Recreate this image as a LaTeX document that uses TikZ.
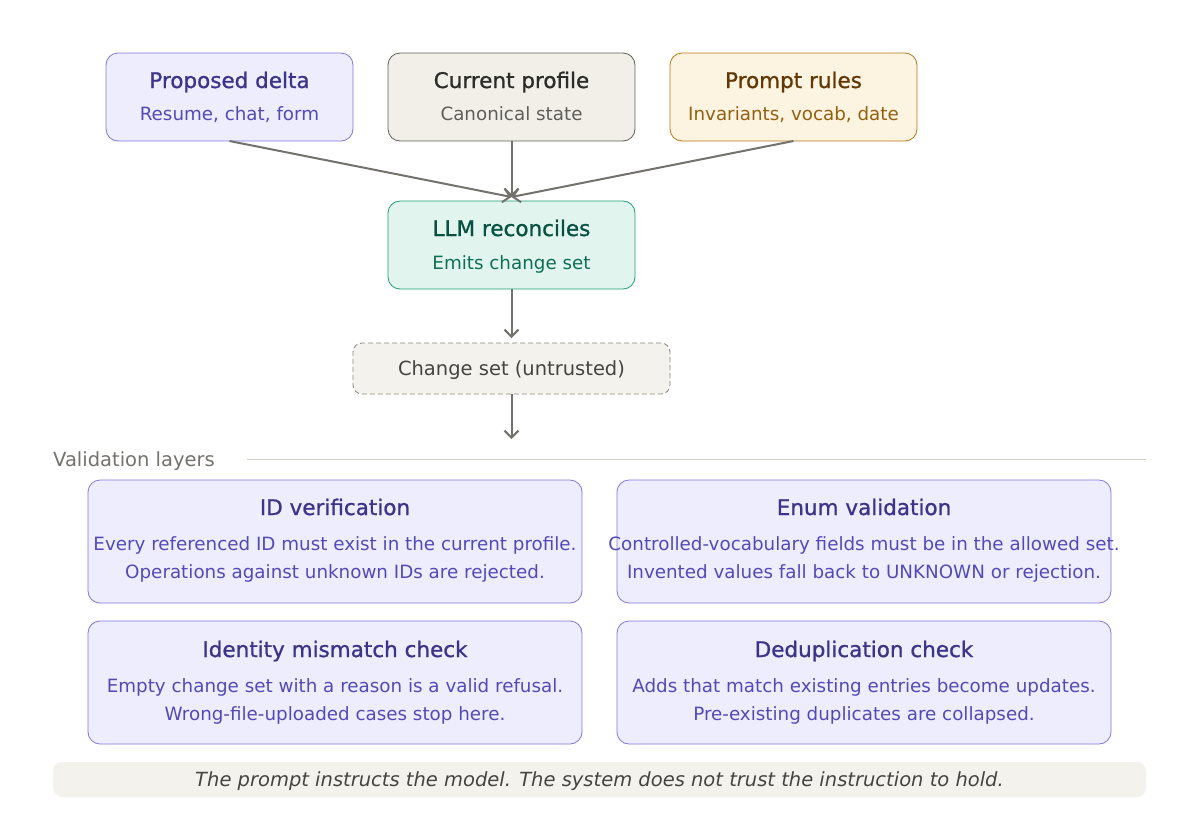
\documentclass[tikz,border=0pt]{standalone}
\usepackage{fontspec}
\setmainfont{DejaVu Sans}
\newfontfamily\medfont{DejaVu Sans}[FakeBold=1.0]
\usetikzlibrary{arrows.meta}
\definecolor{pFill}{HTML}{EEEDFE}
\definecolor{pDraw}{HTML}{7F77DD}
\definecolor{pTitle}{HTML}{3C3489}
\definecolor{pSub}{HTML}{534AB7}
\definecolor{gFill}{HTML}{F1EFE8}
\definecolor{gDraw}{HTML}{5F5E5A}
\definecolor{gTitle}{HTML}{2C2C2A}
\definecolor{gSub}{HTML}{5F5E5A}
\definecolor{yFill}{HTML}{FCF3E0}
\definecolor{yDraw}{HTML}{BA7517}
\definecolor{yTitle}{HTML}{633806}
\definecolor{ySub}{HTML}{936012}
\definecolor{tFill}{HTML}{E1F5EE}
\definecolor{tDraw}{HTML}{1D9E75}
\definecolor{tTitle}{HTML}{085041}
\definecolor{tSub}{HTML}{0F6E56}
\definecolor{cFill}{HTML}{F3F2EC}
\definecolor{cDraw}{HTML}{888780}
\definecolor{cText}{HTML}{444441}
\definecolor{arrowC}{HTML}{73726C}
\definecolor{ruleC}{HTML}{D3D1C7}
\definecolor{labelC}{HTML}{73726C}
\definecolor{footFill}{HTML}{F3F2EC}
\tikzset{
  box/.style={rounded corners=12pt, line width=0.8pt, inner sep=0pt},
  ttl/.style={anchor=base, inner sep=0pt, font=\medfont\fontsize{21.5}{24}\selectfont},
  sub/.style={anchor=base, inner sep=0pt, font=\fontsize{18.3}{20}\selectfont},
  arr/.style={draw=arrowC, line width=2pt, -{Straight Barb[length=7pt,width=14pt,line width=2pt]}},
}
\begin{document}
\begin{tikzpicture}[x=1pt,y=-1pt]
\useasboundingbox (0,0) rectangle (1200,812);
% top boxes
\node[box, draw=pDraw, fill=pFill, minimum width=247pt, minimum height=88pt] (pd) at (229.5,97) {};
\node[ttl, text=pTitle] (pdt) at (229.5,88) {Proposed delta};
\node[sub, text=pSub] (pds) at (229.5,120) {Resume, chat, form};
\node[box, draw=gDraw, fill=gFill, minimum width=247pt, minimum height=88pt] (cp) at (511.5,97) {};
\node[ttl, text=gTitle] (cpt) at (511.5,88) {Current profile};
\node[sub, text=gSub] (cps) at (511.5,120) {Canonical state};
\node[box, draw=yDraw, fill=yFill, minimum width=247pt, minimum height=88pt] (pr) at (793.5,97) {};
\node[ttl, text=yTitle] (prt) at (793.5,88) {Prompt rules};
\node[sub, text=ySub] (prs) at (793.5,120) {Invariants, vocab, date};
% LLM
\node[box, draw=tDraw, fill=tFill, minimum width=247pt, minimum height=88pt] (llm) at (511.5,245) {};
\node[ttl, text=tTitle] (llmt) at (511.5,236) {LLM reconciles};
\node[sub, text=tSub] (llms) at (511.5,269) {Emits change set};
% change set
\node[box, rounded corners=9pt, draw=cDraw, dashed, dash pattern=on 5pt off 3pt, fill=cFill, minimum width=317pt, minimum height=51pt] (cs) at (511.5,368.5) {};
\node[sub, font=\fontsize{19.5}{22}\selectfont, text=cText] (cst) at (511.5,375.5) {Change set (untrusted)};
% arrows
\coordinate (m) at (511.5,197);
\coordinate (pdb) at (229.5,141);
\coordinate (prb) at (793.5,141);
\draw[arr] (pdb) -- (m);
\draw[arr] (prb) -- (m);
\draw[arr] (cp.south) -- (m);
\coordinate (csin) at (511.5,338);
\draw[arr] (llm.south) -- (csin);
\coordinate (vin) at (511.5,439);
\draw[arr] (cs.south) -- (vin);
% validation label
\node[anchor=base west, inner sep=0pt, text=labelC, font=\fontsize{19.5}{22}\selectfont] (vl) at (53,466) {Validation layers};
\coordinate (rl) at (247,459);
\coordinate (rr) at (1146,459);
\draw[ruleC, line width=1pt] (rl) -- (rr);
% validation boxes
\node[box, draw=pDraw, fill=pFill, minimum width=494pt, minimum height=123pt] (idv) at (335,541.5) {};
\node[ttl, text=pTitle] (idvt) at (335,515) {ID verification};
\node[sub, text=pSub] (idv1) at (335,550.5) {Every referenced ID must exist in the current profile.};
\node[sub, text=pSub] (idv2) at (335,578.5) {Operations against unknown IDs are rejected.};
\node[box, draw=pDraw, fill=pFill, minimum width=494pt, minimum height=123pt] (env) at (864,541.5) {};
\node[ttl, text=pTitle] (envt) at (864,515) {Enum validation};
\node[sub, text=pSub] (env1) at (864,550.5) {Controlled-vocabulary fields must be in the allowed set.};
\node[sub, text=pSub] (env2) at (864,578.5) {Invented values fall back to UNKNOWN or rejection.};
\node[box, draw=pDraw, fill=pFill, minimum width=494pt, minimum height=123pt] (imc) at (335,682.5) {};
\node[ttl, text=pTitle] (imct) at (335,657) {Identity mismatch check};
\node[sub, text=pSub] (imc1) at (335,692.5) {Empty change set with a reason is a valid refusal.};
\node[sub, text=pSub] (imc2) at (335,720.5) {Wrong-file-uploaded cases stop here.};
\node[box, draw=pDraw, fill=pFill, minimum width=494pt, minimum height=123pt] (ddc) at (864,682.5) {};
\node[ttl, text=pTitle] (ddct) at (864,657) {Deduplication check};
\node[sub, text=pSub] (ddc1) at (864,692.5) {Adds that match existing entries become updates.};
\node[sub, text=pSub] (ddc2) at (864,720.5) {Pre-existing duplicates are collapsed.};
% footer
\node[rounded corners=9pt, fill=footFill, minimum width=1093pt, minimum height=35pt, inner sep=0pt] (ft) at (599.5,779.5) {};
\node[sub, text=cText, font=\fontsize{19.5}{22}\selectfont\itshape] (ftt) at (599.5,786.5) {The prompt instructs the model. The system does not trust the instruction to hold.};
\end{tikzpicture}
\end{document}
